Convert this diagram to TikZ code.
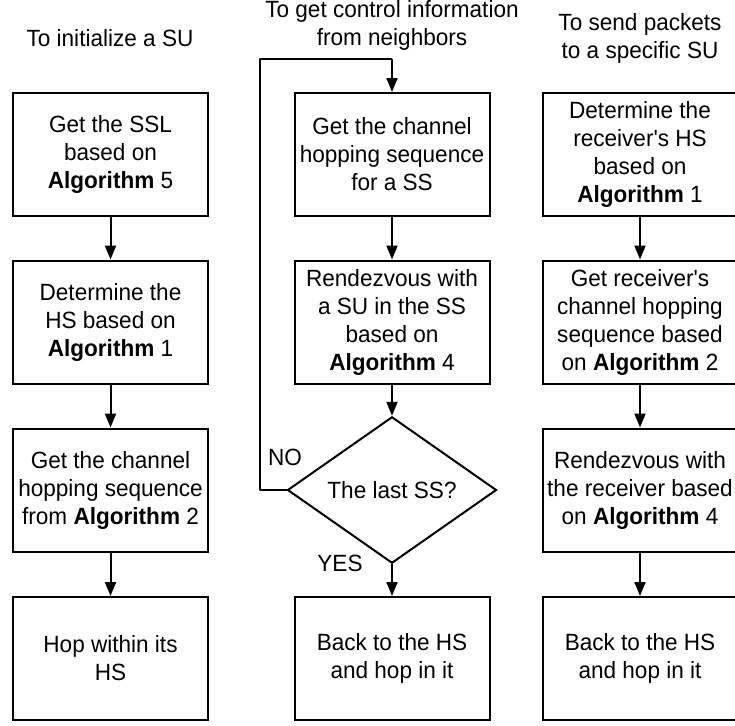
\documentclass[tikz,border=0pt]{standalone}
\usepackage{fontspec}
\setmainfont{Liberation Sans}[Ligatures=TeXOff, FakeStretch=0.96]
\usetikzlibrary{shapes.geometric,arrows.meta}
\begin{document}
\begin{tikzpicture}[x=1pt,y=-1pt,
  every node/.style={font=\fontsize{23.5}{28}\selectfont, align=center},
  flowbox/.style={draw, line width=2pt, minimum width=195pt, minimum height=123pt, inner sep=0pt},
  decide/.style={draw, line width=2pt, shape=diamond, minimum width=209pt, minimum height=145pt, inner sep=0pt},
  flowarrow/.style={line width=2pt, -{Triangle[length=14pt,width=11pt]}},
  flowline/.style={line width=2pt}]
\useasboundingbox (0,0) rectangle (735,725);
\clip (0,0) rectangle (735,725);
% headers
\node (h1) at (110,38) {To initialize a SU};
\node (h2) at (392,25) {To get control information\\from neighbors};
\node (h3) at (640,38) {To send packets\\to a specific SU};
% column 1
\node[flowbox] (a1) at (110.5,154.5) {Get the SSL\\based on\\\textbf{Algorithm} 5};
\node[flowbox] (a2) at (110.5,322) {Determine the\\HS based on\\\textbf{Algorithm} 1};
\node[flowbox] (a3) at (110.5,490) {Get the channel\\hopping sequence\\from \textbf{Algorithm} 2};
\node[flowbox] (a4) at (110.5,658.5) {Hop within its\\HS};
% column 2
\node[flowbox] (b1) at (392,154.5) {Get the channel\\hopping sequence\\for a SS};
\node[flowbox] (b2) at (392,322) {Rendezvous with\\a SU in the SS\\based on\\\textbf{Algorithm} 4};
\node[decide] (b3) at (392,490) {The last SS?};
\node[flowbox] (b4) at (392,658.5) {Back to the HS\\and hop in it};
% column 3
\node[flowbox] (c1) at (640,154.5) {Determine the\\receiver's HS\\based on\\\textbf{Algorithm} 1};
\node[flowbox] (c2) at (640,322) {Get receiver's\\channel hopping\\sequence based\\on \textbf{Algorithm} 2};
\node[flowbox] (c3) at (640,490) {Rendezvous with\\the receiver based\\on \textbf{Algorithm} 4};
\node[flowbox] (c4) at (640,658.5) {Back to the HS\\and hop in it};
% labels
\node (no) at (285,457) {NO};
\node (yes) at (340,563) {YES};
% arrows
\draw[flowarrow] (a1) -- (a2);
\draw[flowarrow] (a2) -- (a3);
\draw[flowarrow] (a3) -- (a4);
\draw[flowarrow] (b1) -- (b2);
\draw[flowarrow] (b2.south) -- (b3.north);
\draw[flowarrow] (b3.south) -- (b4.north);
\draw[flowarrow] (c1) -- (c2);
\draw[flowarrow] (c2) -- (c3);
\draw[flowarrow] (c3) -- (c4);
\coordinate (lp1) at (260,490);
\coordinate (lp2) at (260,59);
\coordinate (lp3) at (392,59);
\draw[flowline, line join=round] (b3.west) -- (lp1) -- (lp2) -- (lp3);
\draw[flowarrow] (lp3) -- (b1.north);
\end{tikzpicture}
\end{document}
